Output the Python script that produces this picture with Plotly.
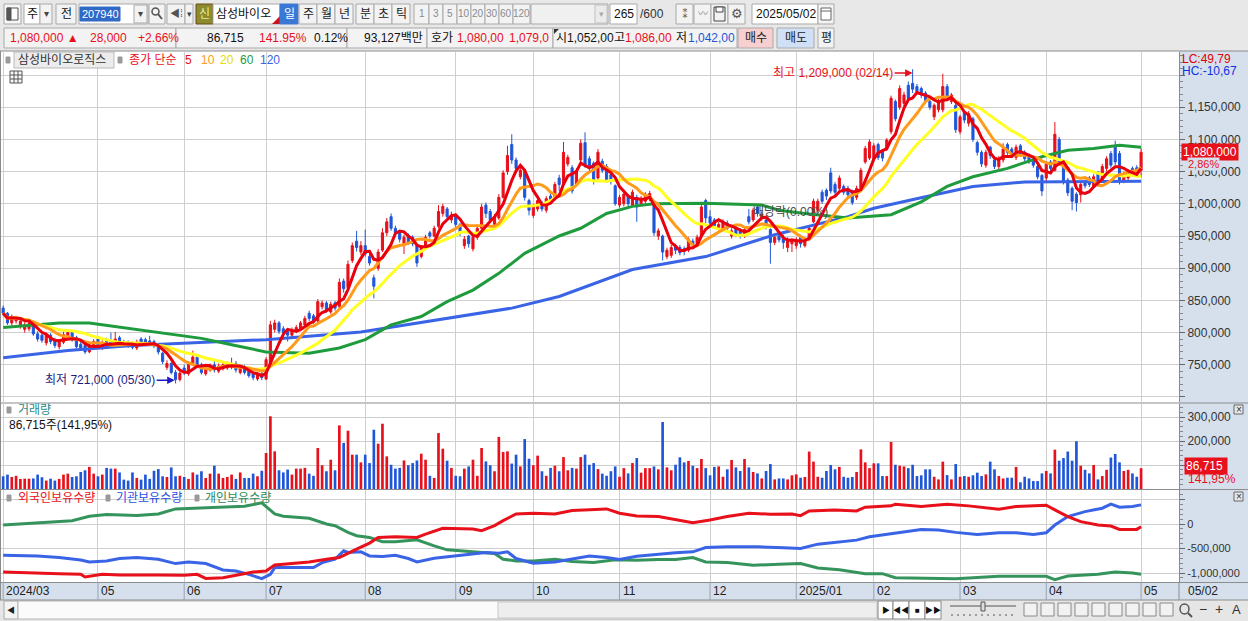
import pandas as pd
import plotly.graph_objects as go

# daily prices in thousand won, 2024-03-29 .. 2025-05-02 (265 trading days)
opens = [
    838, 830, 815, 818, 810, 805, 806, 812, 798, 796,
    784, 796, 788, 778, 785, 792, 800, 792, 782, 780,
    770, 778, 790, 776, 788, 786, 778, 792, 786, 785,
    783, 776, 790, 789, 787, 786, 780, 768, 746, 752,
    738, 727, 745, 736, 752, 762, 750, 736, 742, 750,
    740, 744, 745, 746, 752, 738, 746, 740, 736, 728,
    736, 728, 752, 805, 815, 806, 803, 796, 802, 806,
    812, 830, 826, 818, 840, 846, 832, 846, 840, 880,
    870, 912, 942, 925, 935, 918, 885, 900, 928, 955,
    980, 962, 956, 938, 950, 948, 935, 918, 935, 955,
    950, 965, 985, 992, 975, 982, 968, 935, 950, 930,
    948, 962, 998, 988, 968, 978, 1010, 1050, 1092, 1068,
    1042, 1050, 1005, 982, 992, 1002, 990, 1012, 1008, 1040,
    1032, 1062, 1056, 1030, 1068, 1095, 1070, 1063, 1040, 1066,
    1058, 1045, 1028, 998, 1000, 1012, 998, 1010, 1000, 1004,
    1008, 1000, 950, 950, 918, 920, 935, 932, 930, 928,
    942, 938, 950, 1005, 980, 975, 962, 960, 970, 950,
    962, 958, 950, 980, 975, 995, 978, 975, 960, 940,
    950, 948, 932, 938, 935, 948, 935, 945, 972, 990,
    1018, 1021, 1048, 1030, 1024, 1027, 1024, 1019, 1010, 1024,
    1065, 1071, 1070, 1092, 1081, 1086, 1112, 1159, 1150, 1156,
    1184, 1187, 1182, 1179, 1172, 1159, 1135, 1146, 1146, 1182,
    1159, 1153, 1112, 1142, 1125, 1132, 1095, 1080, 1060, 1088,
    1068, 1058, 1068, 1092, 1085, 1072, 1090, 1080, 1075, 1068,
    1058, 1044, 1040, 1065, 1052, 1100, 1062, 1037, 1024, 1015,
    1014, 1034, 1040, 1028, 1048, 1038, 1055, 1078, 1088, 1078,
    1036, 1040, 1055, 1056, 1052,
]
highs = [
    842, 832, 828, 826, 822, 816, 818, 815, 802, 800,
    800, 799, 792, 790, 802, 805, 803, 795, 786, 783,
    785, 790, 793, 788, 792, 800, 801, 795, 789, 788,
    786, 789, 793, 792, 795, 789, 783, 770, 757, 754,
    742, 740, 750, 755, 772, 765, 753, 748, 752, 756,
    752, 754, 755, 761, 756, 749, 750, 743, 739, 738,
    740, 762, 818, 820, 818, 810, 806, 808, 812, 818,
    826, 834, 829, 852, 850, 849, 848, 849, 884, 884,
    912, 940, 958, 942, 960, 922, 890, 930, 962, 978,
    985, 966, 958, 952, 954, 951, 938, 936, 952, 958,
    966, 998, 1000, 995, 988, 985, 970, 950, 952, 952,
    968, 1000, 1002, 992, 984, 1015, 1052, 1090, 1108, 1072,
    1058, 1054, 1008, 1000, 1008, 1005, 1012, 1018, 1034, 1045,
    1096, 1076, 1060, 1055, 1100, 1111, 1074, 1066, 1085, 1070,
    1062, 1048, 1030, 1014, 1018, 1015, 1022, 1014, 1012, 1018,
    1020, 1002, 962, 952, 932, 936, 938, 936, 934, 948,
    946, 952, 1000, 1008, 990, 978, 972, 976, 974, 962,
    966, 962, 964, 992, 994, 998, 988, 978, 962, 952,
    954, 952, 948, 946, 948, 952, 948, 966, 1008, 1008,
    1022, 1024, 1056, 1034, 1044, 1030, 1028, 1022, 1028, 1056,
    1090, 1100, 1094, 1095, 1084, 1102, 1168, 1162, 1184, 1174,
    1190, 1209, 1186, 1182, 1175, 1162, 1156, 1163, 1202, 1186,
    1172, 1156, 1138, 1146, 1144, 1135, 1098, 1083, 1084, 1090,
    1072, 1074, 1094, 1095, 1088, 1092, 1093, 1083, 1078, 1071,
    1061, 1046, 1066, 1068, 1127, 1104, 1065, 1040, 1027, 1018,
    1034, 1037, 1043, 1046, 1051, 1062, 1074, 1082, 1098, 1082,
    1050, 1054, 1058, 1060, 1086,
]
lows = [
    826, 812, 811, 814, 806, 800, 802, 795, 786, 784,
    780, 782, 776, 774, 782, 789, 786, 775, 772, 767,
    768, 775, 775, 773, 777, 778, 776, 780, 777, 776,
    774, 773, 781, 779, 780, 776, 766, 751, 742, 735,
    721, 724, 734, 733, 750, 747, 735, 733, 739, 738,
    737, 741, 742, 743, 738, 735, 735, 730, 726, 725,
    726, 726, 750, 800, 798, 795, 786, 793, 799, 803,
    810, 818, 814, 815, 836, 831, 829, 834, 838, 862,
    868, 908, 926, 920, 918, 904, 853, 896, 925, 950,
    958, 950, 940, 922, 936, 934, 902, 915, 932, 946,
    948, 962, 980, 975, 970, 964, 950, 930, 932, 926,
    944, 960, 978, 970, 964, 975, 1008, 1045, 1062, 1048,
    1038, 1005, 982, 978, 988, 988, 986, 1000, 1005, 1020,
    1030, 1058, 1016, 1026, 1062, 1056, 1050, 1030, 1036, 1048,
    1033, 1030, 997, 994, 996, 995, 995, 972, 997, 1000,
    1004, 950, 944, 912, 914, 916, 922, 920, 920, 925,
    930, 935, 948, 970, 966, 962, 958, 956, 958, 946,
    948, 946, 947, 968, 972, 980, 974, 960, 907, 936,
    940, 930, 925, 925, 930, 932, 932, 942, 970, 986,
    1000, 1006, 1016, 1014, 1020, 1014, 1010, 998, 1006, 1020,
    1062, 1068, 1066, 1068, 1066, 1082, 1108, 1128, 1146, 1152,
    1160, 1172, 1170, 1164, 1156, 1146, 1130, 1142, 1142, 1160,
    1155, 1110, 1108, 1125, 1120, 1096, 1075, 1057, 1056, 1070,
    1054, 1054, 1064, 1076, 1071, 1068, 1074, 1066, 1062, 1056,
    1038, 1012, 1034, 1050, 1050, 1060, 1030, 1012, 990, 988,
    1002, 1024, 1026, 1024, 1030, 1034, 1050, 1056, 1060, 1030,
    1032, 1036, 1042, 1048, 1042,
]
closes = [
    830, 815, 824, 822, 818, 812, 814, 798, 790, 788,
    796, 786, 780, 786, 797, 800, 790, 778, 776, 770,
    781, 786, 778, 784, 780, 781, 790, 783, 780, 779,
    777, 785, 784, 782, 783, 779, 770, 755, 752, 738,
    727, 737, 738, 752, 762, 750, 738, 744, 748, 742,
    748, 750, 751, 752, 742, 745, 738, 733, 730, 734,
    730, 758, 812, 815, 802, 800, 796, 804, 808, 815,
    822, 822, 818, 848, 846, 835, 844, 838, 878, 868,
    906, 935, 932, 935, 922, 908, 872, 925, 955, 972,
    962, 955, 945, 948, 940, 938, 908, 932, 948, 950,
    962, 988, 996, 980, 982, 968, 955, 945, 938, 948,
    962, 995, 985, 975, 980, 1010, 1048, 1075, 1068, 1055,
    1052, 1010, 990, 995, 1005, 992, 1008, 1004, 1030, 1030,
    1080, 1072, 1020, 1050, 1094, 1060, 1055, 1037, 1080, 1052,
    1037, 1035, 1000, 1010, 1015, 1000, 1018, 995, 1008, 1015,
    1016, 955, 958, 925, 928, 932, 928, 924, 926, 945,
    936, 948, 995, 978, 970, 966, 968, 972, 962, 958,
    952, 950, 960, 972, 990, 985, 984, 965, 940, 948,
    944, 940, 945, 942, 944, 938, 945, 962, 1004, 1004,
    1004, 1012, 1020, 1018, 1040, 1018, 1014, 1002, 1024, 1052,
    1086, 1096, 1090, 1072, 1071, 1099, 1164, 1132, 1179, 1169,
    1164, 1178, 1174, 1169, 1160, 1150, 1153, 1159, 1182, 1164,
    1169, 1115, 1135, 1130, 1140, 1100, 1080, 1062, 1080, 1075,
    1058, 1070, 1085, 1080, 1075, 1088, 1078, 1070, 1066, 1060,
    1042, 1020, 1062, 1055, 1108, 1065, 1035, 1017, 1004, 1002,
    1030, 1028, 1030, 1042, 1035, 1058, 1070, 1060, 1065, 1035,
    1046, 1050, 1046, 1052, 1080,
]
# daily volume, thousand shares
volumes = [
    53, 60, 50, 55, 42, 43, 43, 44, 60, 49,
    35, 43, 35, 42, 60, 64, 50, 53, 71, 78,
    92, 64, 53, 60, 88, 85, 85, 69, 39, 35,
    69, 46, 39, 60, 42, 76, 83, 53, 50, 90,
    53, 55, 50, 42, 69, 60, 74, 46, 64, 97,
    64, 46, 50, 60, 42, 69, 46, 46, 64, 53,
    76, 150, 303, 157, 78, 69, 81, 60, 85, 85,
    88, 64, 55, 171, 99, 74, 122, 78, 265, 192,
    243, 143, 143, 111, 143, 108, 247, 189, 272, 136,
    101, 85, 88, 119, 99, 108, 119, 147, 122, 55,
    46, 233, 168, 118, 88, 55, 53, 85, 94, 122,
    55, 171, 115, 99, 74, 217, 154, 157, 106, 143,
    94, 208, 126, 99, 139, 74, 55, 88, 97, 74,
    133, 78, 88, 85, 133, 143, 101, 108, 83, 64,
    55, 74, 94, 51, 87, 65, 108, 129, 68, 87,
    87, 94, 82, 279, 90, 78, 101, 132, 111, 117,
    97, 87, 125, 87, 57, 92, 94, 51, 82, 121,
    90, 75, 125, 90, 71, 65, 44, 75, 104, 40,
    44, 44, 40, 57, 61, 47, 50, 156, 114, 51,
    47, 75, 100, 82, 92, 51, 47, 50, 71, 165,
    111, 87, 107, 107, 54, 54, 196, 101, 97, 94,
    87, 101, 54, 57, 82, 82, 51, 40, 114, 58,
    40, 104, 51, 54, 51, 57, 68, 54, 61, 114,
    82, 54, 44, 47, 47, 92, 28, 51, 44, 33,
    33, 65, 75, 65, 164, 118, 129, 156, 118, 199,
    97, 80, 65, 100, 40, 54, 80, 131, 146, 111,
    75, 80, 65, 51, 86.715,
]

# long moving averages (day index, thousand won)
ma60_day = [0, 13, 20, 30, 38, 46, 53, 61, 71, 78, 84, 90, 97, 103, 109, 115, 121, 129, 134,
            140, 146, 151, 163, 176, 180, 186, 196, 206, 213, 219, 225, 233, 241, 247, 253, 259, 264]
ma60_val = [808, 815, 815, 806, 799, 791, 781, 770, 768, 776, 789, 812, 825, 848, 866, 892, 923, 950, 962,
            985, 996, 1000, 1001, 998, 990, 985, 978, 983, 1003, 1027, 1042, 1055, 1073, 1083, 1086, 1091, 1088]
ma120_day = [0, 15, 30, 46, 61, 83, 95, 106, 118, 129, 146, 163, 179, 196, 202, 214, 225, 237, 248, 264]
ma120_val = [761, 772, 780, 785, 789, 801, 814, 825, 838, 856, 898, 918, 952, 980, 993, 1011, 1027, 1034, 1034, 1035]

# holdings (thousand shares)
foreign_day = [0, 8, 13, 18, 19, 23, 27, 36, 42, 45, 47, 51, 54, 58, 61, 63, 65, 71, 75, 78,
               82, 85, 87, 91, 96, 98, 102, 106, 109, 111, 114, 116, 119, 123, 128, 132, 137, 140, 143, 147,
               152, 156, 160, 164, 168, 173, 178, 183, 185, 187, 193, 198, 200, 206, 207, 213, 219, 224, 231, 235,
               242, 244, 247, 250, 254, 257, 259, 263, 264]
foreign_val = [-979, -993, -1014, -1027, -1082, -1027, -1041, -1041, -1048, -1027, -1110, -1096, -1048, -979, -959, -836, -822, -774, -719, -685,
               -514, -390, -274, -260, -274, -205, -89, -103, -103, -137, -34, 68, 205, 219, 205, 274, 288, 308, 219, 164,
               151, 82, 27, 82, 151, 219, 199, 205, 171, 267, 288, 267, 342, 370, 404, 356, 404, 370, 301, 356,
               384, 288, 151, 48, -21, -41, -110, -110, -55]
inst_day = [0, 8, 13, 18, 20, 24, 27, 31, 36, 40, 43, 47, 51, 54, 57, 60, 62, 63, 68, 72,
            74, 77, 79, 80, 83, 85, 88, 91, 94, 96, 100, 105, 109, 112, 115, 117, 119, 123, 128, 132,
            136, 140, 143, 147, 152, 156, 160, 163, 168, 175, 181, 185, 189, 194, 198, 201, 207, 213, 217, 221,
            226, 231, 235, 239, 242, 244, 247, 251, 255, 257, 259, 262, 264]
inst_val = [-637, -651, -685, -733, -774, -753, -705, -685, -719, -808, -774, -808, -938, -959, -1027, -1116, -1027, -890, -890, -890,
            -788, -719, -548, -582, -568, -651, -664, -637, -705, -774, -699, -651, -616, -582, -596, -568, -705, -801, -774, -705,
            -651, -685, -726, -658, -616, -589, -568, -479, -466, -466, -486, -500, -411, -363, -329, -260, -192, -110, -123, -171,
            -212, -178, -178, -212, -178, -21, 151, 253, 322, 404, 342, 356, 390]
indiv_day = [0, 8, 16, 20, 24, 31, 36, 40, 45, 51, 56, 60, 63, 65, 71, 75, 77, 80, 82, 85,
             88, 91, 96, 100, 103, 106, 109, 114, 116, 119, 123, 128, 132, 137, 142, 147, 152, 156, 160, 163,
             168, 174, 180, 185, 189, 194, 200, 204, 207, 217, 221, 231, 235, 242, 244, 247, 254, 258, 262, 264]
indiv_val = [-21, 21, 68, 158, 192, 171, 205, 308, 322, 342, 363, 432, 205, 158, 116, 0, -34, -171, -240, -274,
             -363, -363, -322, -445, -527, -548, -568, -603, -719, -753, -753, -719, -767, -788, -730, -740, -726, -726, -685, -774,
             -788, -842, -822, -808, -897, -932, -1014, -1014, -1096, -1116, -1116, -1068, -1068, -1068, -1137, -1062, -1027, -979, -1000, -1027]

month_day = [0, 22, 42, 61, 84, 105, 123, 143, 164, 184, 202, 222, 242, 264]
month_txt = ["2024/03", "05", "06", "07", "08", "09", "10", "11", "12", "2025/01", "02", "03", "04", "05"]

price_ticks = [700000, 750000, 800000, 850000, 900000, 950000, 1000000, 1050000, 1100000, 1150000, 1200000]
vol_ticks = [100000, 200000, 300000]
hold_ticks = [500000, 0, -500000, -1000000]

W, H = 1248, 621
FONT = "Liberation Sans, Noto Sans CJK KR, sans-serif"
RED = "#e8101a"
BLUE = "#1f56d8"
GRID = "#cfcfcf"
AXBG = "#d6e0ed"
MA_COLORS = {5: "#e8000e", 10: "#ff9a1a", 20: "#ffff22"}

days = list(range(len(closes)))
k = 1000
c_ser = pd.Series(closes) * k


def px(x):
    return x / W


def py(y):
    return 1 - y / H


shapes, annos = [], []


def box(x0, y0, x1, y1, fill="#f3f3f3", line="#a9a9a9", layer="below"):
    shapes.append(dict(type="rect", xref="paper", yref="paper", x0=px(x0), x1=px(x1), y0=py(y1), y1=py(y0),
                       fillcolor=fill, layer=layer,
                       line=dict(color=line or "rgba(0,0,0,0)", width=1 if line else 0)))


def seg(x0, y0, x1, y1, color="#8c8c8c", w=1):
    shapes.append(dict(type="line", xref="paper", yref="paper", x0=px(x0), x1=px(x1), y0=py(y0), y1=py(y1),
                       line=dict(color=color, width=w), layer="above"))


def txt(x, y, s, color="#111", size=12, anchor="left", **kw):
    annos.append(dict(xref="paper", yref="paper", x=px(x), y=py(y), text=s, showarrow=False,
                      xanchor=anchor, yanchor="middle", font=dict(family=FONT, size=size, color=color), **kw))


fig = go.Figure()

# price panel
fig.add_trace(go.Candlestick(
    x=days, open=[v * k for v in opens], high=[v * k for v in highs],
    low=[v * k for v in lows], close=[v * k for v in closes],
    increasing=dict(line=dict(color=RED, width=1), fillcolor=RED),
    decreasing=dict(line=dict(color=BLUE, width=1), fillcolor=BLUE),
    whiskerwidth=0, xaxis="x", yaxis="y", hoverinfo="skip", showlegend=False))
fig.add_trace(go.Scatter(x=ma120_day, y=[v * k for v in ma120_val], mode="lines",
                         line=dict(color="#3a64e6", width=3), xaxis="x", yaxis="y", showlegend=False))
fig.add_trace(go.Scatter(x=ma60_day, y=[v * k for v in ma60_val], mode="lines",
                         line=dict(color="#1e9b3c", width=3), xaxis="x", yaxis="y", showlegend=False))
for n in (20, 10, 5):
    fig.add_trace(go.Scatter(x=days, y=c_ser.rolling(n, min_periods=1).mean(), mode="lines",
                             line=dict(color=MA_COLORS[n], width=3), xaxis="x", yaxis="y", showlegend=False))

# volume panel
vol_colors = [RED if c >= o else BLUE for o, c in zip(opens, closes)]
fig.add_trace(go.Bar(x=days, y=[v * k for v in volumes], marker=dict(color=vol_colors, line=dict(width=0)),
                     width=0.62, xaxis="x2", yaxis="y2", showlegend=False))

# holdings panel
for d, v, col in ((indiv_day, indiv_val, "#35935c"), (inst_day, inst_val, "#3a64e6"),
                  (foreign_day, foreign_val, "#e8101a")):
    fig.add_trace(go.Scatter(x=d, y=[a * k for a in v], mode="lines", line=dict(color=col, width=3),
                             xaxis="x3", yaxis="y3", showlegend=False))

xdom = [px(1), px(1179)]
xrange_ = [-0.5, 272.8]
xcommon = dict(domain=xdom, range=xrange_, tickmode="array", tickvals=month_day, showticklabels=False,
               showgrid=True, gridcolor=GRID, gridwidth=1, zeroline=False, fixedrange=True)
ycommon = dict(side="right", showgrid=True, gridcolor=GRID, zeroline=False, ticks="outside", ticklen=5,
               tickcolor="#666", showline=True, linecolor="#8a8a8a", fixedrange=True)

fig.update_layout(
    width=W, height=H, margin=dict(l=0, r=0, t=0, b=0), autosize=False,
    paper_bgcolor="#ffffff", plot_bgcolor="rgba(0,0,0,0)", hovermode=False, bargap=0.3,
    xaxis=dict(anchor="y", rangeslider=dict(visible=False), **xcommon),
    xaxis2=dict(anchor="y2", **xcommon),
    xaxis3=dict(anchor="y3", **xcommon),
    yaxis=dict(domain=[py(402), py(52)], range=[692195, 1235745], anchor="x",
               tickmode="array", tickvals=price_ticks,
               ticktext=["" if t in (700000, 1200000) else f"{t:,}" for t in price_ticks],
               tickfont=dict(family=FONT, size=12, color="#333"),
               minor=dict(ticks="outside", ticklen=3, tickcolor="#888", tickmode="linear", tick0=0,
                          dtick=10000, showgrid=False), **ycommon),
    yaxis2=dict(domain=[py(489), py(404)], range=[0, 354167], anchor="x2",
                tickmode="array", tickvals=vol_ticks,
                ticktext=["" if t == 100000 else f"{t:,}" for t in vol_ticks],
                tickfont=dict(family=FONT, size=12, color="#333"),
                minor=dict(ticks="outside", ticklen=3, tickcolor="#888", tickmode="linear", tick0=0,
                           dtick=20000, showgrid=False), **ycommon),
    yaxis3=dict(domain=[py(582), py(490)], range=[-1183673, 693878], anchor="x3",
                tickmode="array", tickvals=hold_ticks,
                ticktext=["" if t > 0 else f"{t:,}" for t in hold_ticks],
                tickfont=dict(family=FONT, size=11, color="#333"),
                minor=dict(ticks="outside", ticklen=3, tickcolor="#888", tickmode="linear", tick0=0,
                           dtick=100000, showgrid=False), **ycommon),
)

# ---- backgrounds of the frame
box(0, 0, 1248, 51, "#e8e8e8", None)
box(1179, 51, 1248, 582, AXBG, None)
box(0, 582, 1248, 600, AXBG, None)
box(0, 600, 1248, 621, "#e6e6e6", None)

# ---- toolbar row 1
box(4, 4, 21, 24, "#f6f6f6")
box(7, 8, 18, 20, "#ffffff", "#555")
box(7, 8, 11, 20, "#555", "#555")
box(24, 4, 40, 24, "#ffffff")
txt(32, 14, "주", anchor="center")
box(40, 4, 52, 24)
txt(46, 14, "▾", "#444", 10, "center")
box(56, 4, 76, 24)
txt(66, 14, "전", anchor="center")
box(79, 4, 148, 24, "#ffffff")
box(80, 7, 120, 21, "#3169c6", "#3169c6")
txt(80, 14, "207940", "#ffffff", 11)
box(134, 5, 147, 23)
txt(140.5, 14, "▾", "#444", 10, "center")
box(149, 4, 165, 24)
shapes.append(dict(type="circle", xref="paper", yref="paper", x0=px(152), x1=px(159), y0=py(15), y1=py(8),
                   line=dict(color="#555", width=1.5), layer="below"))
seg(158, 14, 162, 19, "#555", 2)
box(167, 4, 185, 24)
txt(176, 14, "◀⁞", "#555", 10, "center")
box(185, 4, 193, 24)
txt(189, 14, "▾", "#444", 9, "center")
box(196, 4, 213, 24, "#8c8c2c", "#6a4a1a")
txt(204.5, 14, "신", "#e8e8a0", 12, "center")
box(213, 4, 280, 24, "#ffffff")
txt(214, 14, "삼성바이오")
shapes.append(dict(type="path", xref="paper", yref="paper", layer="below",
                   path=f"M {px(272)},{py(24)} L {px(280)},{py(24)} L {px(280)},{py(16)} Z",
                   fillcolor="#c8141a", line=dict(width=0)))
period_btns = ["일", "주", "월", "년", "분", "초", "틱"]
period_x = [280, 299, 317, 335, 356, 374, 392]
for i, (lab, x0) in enumerate(zip(period_btns, period_x)):
    sel = i == 0
    box(x0, 4, x0 + 18, 24, "#3b78d6" if sel else "#f3f3f3", "#3b78d6" if sel else "#a9a9a9")
    txt(x0 + 9, 14, lab, "#ffffff" if sel else "#222", 12, "center")
num_btns = ["1", "3", "5", "10", "20", "30", "60", "120"]
num_x = [414, 429, 443, 457, 471, 485, 499, 513, 530]
for i, lab in enumerate(num_btns):
    box(num_x[i], 4, num_x[i + 1], 24)
    txt((num_x[i] + num_x[i + 1]) / 2, 14, lab, "#8a8a8a", 10, "center")
box(531, 4, 608, 24, "#f0f0f0")
box(595, 5, 607, 23, "#ebebeb", "#c0c0c0")
txt(601, 14, "▾", "#aaa", 9, "center")
box(610, 4, 637, 24, "#ffffff")
txt(636, 14, "265", "#111", 12, "right")
txt(638, 14, "/600", "#333", 12)
for x0 in (676, 694, 711, 728):
    box(x0, 4, x0 + 17, 24)
txt(684.5, 14, "⁑", "#444", 12, "center")
txt(702.5, 14, "〰", "#777", 10, "center")
box(714, 7, 725, 21, "#f3f3f3", "#444")
box(716, 7, 723, 12, "#ffffff", "#444")
txt(736.5, 14, "⚙", "#555", 13, "center")
box(752, 4, 818, 24, "#ffffff")
txt(754, 14, "2025/05/02")
box(818, 4, 834, 24)
box(821, 8, 831, 20, "#ffffff", "#666")
seg(821, 11, 831, 11, "#666")

# ---- toolbar row 2
box(4, 28, 176, 48)
txt(8, 38, "1,080,000 ▲", RED)
txt(88, 38, "28,000", RED)
txt(136, 38, "+2.66%", RED)
box(176, 28, 347, 48)
txt(246, 38, "86,715", "#111", 12, "right")
txt(257, 38, "141.95%", RED)
txt(312, 38, "0.12%", "#111")
box(347, 28, 427, 48)
txt(425, 38, "93,127백만", "#111", 12, "right")
box(427, 28, 553, 48)
txt(429, 38, "호가", "#111")
txt(455, 38, "1,080,00", RED)
txt(507, 38, "1,079,0", RED)
box(553, 28, 737, 48)
shapes.append(dict(type="path", xref="paper", yref="paper", layer="below",
                   path=f"M {px(554)},{py(29)} L {px(559)},{py(29)} L {px(554)},{py(34)} Z",
                   fillcolor="#333", line=dict(width=0)))
txt(554, 38, "시", "#111")
txt(565, 38, "1,052,00", "#111")
txt(612, 38, "고", "#111")
txt(623, 38, "1,086,00", RED)
txt(674, 38, "저", "#111")
txt(686, 38, "1,042,00", BLUE)
box(738, 28, 773, 48, "#f7cfcf")
txt(755.5, 38, "매수", "#222", 12, "center")
box(777, 28, 814, 48, "#cfe0f7")
txt(795.5, 38, "매도", "#222", 12, "center")
box(818, 28, 834, 48)
txt(826, 38, "평", "#222", 12, "center")

# ---- panel frames
for y in (51, 403, 489.5, 582.5, 600):
    seg(0, y, 1248, y, "#8c8c8c")
seg(0.5, 51, 0.5, 600, "#8c8c8c")
seg(1179, 582, 1179, 600, "#8c8c8c")

# ---- price panel legend and marks
box(6, 57, 10, 63, "#9a9a9a", "#9a9a9a", "above")
box(14, 52, 114, 68, "#ececec", "#b8b8b8", "above")
txt(16, 60, "삼성바이오로직스", "#333")
box(118, 57, 122, 63, "#9a9a9a", "#9a9a9a", "above")
txt(127, 60, "종가 단순", RED)
txt(183, 60, "5", RED)
txt(199, 60, "10", "#ff9a1a")
txt(218, 60, "20", "#e6de00")
txt(238, 60, "60", "#1e9b3c")
txt(258, 60, "120", "#3a64e6")
box(10, 71, 22, 83, "#f8f8f8", "#555", "above")
seg(10, 75, 22, 75, "#555")
seg(10, 79, 22, 79, "#555")
seg(14, 71, 14, 83, "#555")
seg(18, 71, 18, 83, "#555")

annos.append(dict(xref="x", yref="y", x=211, y=1203000, text="최고 1,209,000 (02/14)", showarrow=True,
                  ax=-18, ay=0, xanchor="right", yanchor="middle", arrowhead=2, arrowsize=1, arrowwidth=1.5,
                  arrowcolor=RED, standoff=0, font=dict(family=FONT, size=12, color=RED)))
annos.append(dict(xref="x", yref="y", x=39.8, y=726000, text="최저 721,000 (05/30)", showarrow=True,
                  ax=-18, ay=0, xanchor="right", yanchor="middle", arrowhead=2, arrowsize=1, arrowwidth=1.5,
                  arrowcolor="#1a1ac8", standoff=0, font=dict(family=FONT, size=12, color="#1c1c7c")))
txt(751, 212, "배당락(0.00%)", "#4a4a4a", 12)

txt(1180, 59, "LC:49,79", "#e00000", 12)
txt(1180, 71, "HC:-10,67", "#1030e0", 12)
txt(1181, 152, "1,080,000", "#ffffff", 12, bgcolor=RED, borderpad=1)
txt(1187, 164, "2,86%", RED, 11, bgcolor=AXBG, borderpad=0)

# ---- volume panel
box(7, 407, 11, 413, "#9a9a9a", "#9a9a9a", "above")
txt(16, 410, "거래량", "#2a8a8a")
txt(7, 425, "86,715주(141,95%)", "#111")
txt(1184, 466, "86,715 ", "#ffffff", 12, bgcolor=RED, borderpad=1)
txt(1186, 479, "141,95%", RED, 12)
box(1234, 405, 1243, 414, "#e8e8e8", "#666", "above")
txt(1238.5, 409.5, "×", "#333", 10, "center")

# ---- holdings panel
box(7, 495, 11, 501, "#9a9a9a", "#9a9a9a", "above")
txt(16, 498, "외국인보유수량", RED)
box(106, 495, 110, 501, "#9a9a9a", "#9a9a9a", "above")
txt(114, 498, "기관보유수량", "#2a50e0")
box(195, 495, 199, 501, "#9a9a9a", "#9a9a9a", "above")
txt(203, 498, "개인보유수량", "#2e8a58")
box(1234, 492, 1243, 501, "#e8e8e8", "#666", "above")
txt(1238.5, 496.5, "×", "#333", 10, "center")

# ---- date strip
for d, lab in zip(month_day, month_txt):
    shapes.append(dict(type="line", xref="x3", yref="paper", x0=d, x1=d, y0=py(600), y1=py(582),
                       line=dict(color="#98a2b2", width=1), layer="above"))
    annos.append(dict(xref="x3", yref="paper", x=d, y=py(591), text=lab, showarrow=False, xanchor="left",
                      yanchor="middle", xshift=1, font=dict(family=FONT, size=12, color="#222")))
txt(1186, 591, "05/02", "#222", 12)

# ---- bottom bar
box(4, 601, 18, 619, "#f4f4f4")
txt(11, 610, "◀", "#222", 8, "center")
box(18, 601, 878, 619, "#fbfbfb", "#b8b8b8")
box(498, 602, 877, 618, "#eeeeee", "#c8c8c8")
ctrl = ["▶", "◀◀", "■", "▶▶"]
ctrl_x = [878, 893, 909, 925, 941]
for i, lab in enumerate(ctrl):
    box(ctrl_x[i], 601, ctrl_x[i + 1], 619, "#ffffff", "#888")
    txt((ctrl_x[i] + ctrl_x[i + 1]) / 2, 610, lab, "#111", 8, "center")
seg(950, 606, 1016, 606, "#555", 1)
box(981, 602, 985, 611, "#dddddd", "#555", "above")
for x in range(952, 1016, 6):
    seg(x, 614, x, 616, "#555")
for x0 in range(1024, 1176, 17):
    box(x0, 603, x0 + 13, 616, "#f2f2f2", "#8a8a8a")
shapes.append(dict(type="circle", xref="paper", yref="paper", x0=px(1180), x1=px(1189), y0=py(614), y1=py(604),
                   line=dict(color="#555", width=1.5), layer="above"))
seg(1188, 613, 1192, 617, "#555", 2)
txt(1203, 609, "−", "#333", 14, "center")
txt(1219, 609, "+", "#333", 14, "center")
txt(1236, 609, "A", "#333", 13, "center")

fig.update_layout(shapes=shapes, annotations=annos)
fig.write_html("out.html", config={"displayModeBar": False},
               post_script="document.body.style.margin='0';document.body.style.overflow='hidden';")
